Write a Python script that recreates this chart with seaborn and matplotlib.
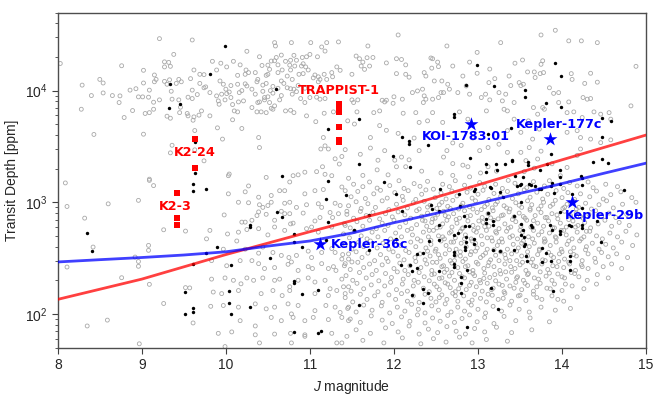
import matplotlib
matplotlib.use("Agg")
import matplotlib.pyplot as plt
import seaborn as sns
import pandas as pd
import numpy as np

# ---- data (J magnitude, transit depth in ppm) ----

# background candidates, upper band (deep transits)
grey_upper = [
    (9.21, 29200), (9.60, 28400), (9.38, 21100), (8.03, 17500), (8.76, 16700), (9.27, 18100),
    (9.32, 17900), (9.27, 16300), (9.34, 16500), (9.02, 15200), (9.62, 15300), (9.69, 14000),
    (9.74, 13900), (9.15, 13800), (9.17, 12600), (9.15, 12000), (8.50, 12600), (8.54, 11700),
    (8.29, 11200), (9.02, 11700), (9.27, 12100), (9.30, 11400), (9.33, 12500), (9.41, 11600),
    (9.44, 12600), (9.47, 12000), (9.58, 12800), (9.69, 11600), (9.74, 10600), (8.93, 10400),
    (8.86, 10100), (8.54, 9530), (8.40, 9030), (8.65, 9030), (8.74, 8970), (8.73, 7820),
    (8.96, 8790), (9.01, 8790), (9.08, 8730), (9.09, 10100), (9.35, 9870), (9.60, 10100),
    (9.66, 9220), (9.60, 8490), (9.21, 8260), (9.14, 7870), (9.36, 8380), (9.44, 8260),
    (9.55, 8730), (9.14, 6810), (9.09, 6350), (9.04, 6240), (8.89, 6630), (8.79, 5740),
    (8.28, 6810), (9.30, 5900), (9.34, 5660), (9.46, 7100), (9.45, 6350), (9.54, 6240),
    (9.55, 5940), (9.62, 5820), (9.68, 6030), (9.61, 5430), (9.63, 4390), (9.71, 6580),
    (8.43, 4050), (9.02, 4070), (9.36, 3240), (9.34, 2770), (9.63, 2950), (9.74, 2350),
    (9.09, 1610),
    (10.58, 26900), (10.59, 25100), (10.78, 26900), (11.01, 26900), (11.14, 24600), (11.20, 26900),
    (11.34, 27300), (10.25, 22500), (10.66, 20800), (10.60, 19800), (10.81, 20700), (10.77, 18700),
    (10.84, 18700), (10.91, 19800), (10.96, 20100), (11.00, 21100), (11.09, 20100), (11.18, 22600),
    (9.84, 18300), (9.94, 17600), (10.09, 18300), (10.01, 16300), (10.17, 17000), (10.24, 15300),
    (10.35, 14500), (10.40, 20100), (10.43, 16800), (10.50, 16900), (10.52, 15500), (10.54, 18400),
    (10.58, 18500), (10.62, 17000), (10.67, 15300), (10.71, 18300), (10.76, 16900), (10.77, 15300),
    (10.82, 16600), (10.90, 16600), (10.92, 17400), (10.95, 16300), (10.98, 15300), (11.06, 13800),
    (11.10, 13300), (11.12, 12600), (11.26, 14500), (11.32, 16300), (11.36, 15200), (11.50, 14000),
    (9.89, 15300), (10.14, 13700), (10.23, 14000), (10.27, 14500), (10.38, 12600), (10.48, 13700),
    (10.50, 14000), (10.62, 14500), (10.73, 13500), (10.79, 12600), (10.87, 14000), (10.92, 14200),
    (11.04, 13000), (11.10, 12000), (11.17, 14000), (11.20, 12600), (11.27, 13300), (9.76, 10800),
    (9.93, 12200), (9.97, 11400), (10.06, 11100), (10.14, 11400), (10.23, 11500), (10.25, 11000),
    (10.37, 12000), (10.44, 11200), (10.48, 11600), (10.56, 10900), (10.66, 12200), (10.69, 11600),
    (10.73, 10600), (10.77, 10400), (10.81, 10300), (10.86, 11100), (10.94, 10500), (9.81, 9600),
    (9.89, 8970), (9.95, 9290), (10.00, 10300), (10.01, 9400), (10.04, 9720), (10.16, 9600),
    (10.19, 10000), (10.31, 10300), (10.35, 9290), (10.44, 9860), (10.46, 8670), (10.53, 10000),
    (10.56, 9490), (10.50, 8800), (10.62, 10500), (10.66, 9030), (10.79, 9290), (10.84, 9790),
    (10.89, 8490), (10.94, 7820), (11.00, 8670), (11.08, 8730), (11.12, 8380), (11.18, 8490),
    (9.91, 8090), (9.92, 7550), (9.99, 8260), (10.06, 8670), (10.08, 7500), (10.15, 7920),
    (10.21, 8090), (10.31, 7050), (10.38, 7820), (10.40, 7920), (10.46, 8260), (10.52, 7820),
    (10.58, 7300), (10.64, 8260), (10.71, 6580), (10.77, 6670), (10.81, 6350), (10.54, 6950),
    (10.56, 6810), (10.10, 6580), (10.14, 6450), (10.37, 6450), (10.42, 6450), (10.48, 6350),
    (9.81, 5940), (10.08, 5480), (10.19, 4580), (9.90, 4640), (9.96, 3680), (10.96, 5940),
    (11.07, 5270), (11.17, 6270), (11.50, 8260), (11.45, 5360), (11.28, 6450), (11.16, 3800),
    (11.13, 3000), (11.18, 3200), (11.22, 3000), (11.30, 2450), (11.35, 2200), (11.15, 2080),
    (11.26, 1730), (10.39, 3800), (10.40, 3090), (10.03, 1730), (10.04, 1790), (10.48, 1670),
    (10.80, 1730), (10.86, 1760), (10.94, 1860), (11.08, 1880), (11.18, 1780), (11.38, 2570),
    (11.42, 2960), (11.46, 1640),
    (12.05, 31500), (11.69, 25100), (12.63, 25100), (12.99, 22000), (11.55, 20400), (11.59, 19300),
    (11.63, 18000), (11.68, 19700), (11.75, 19800), (11.71, 16600), (11.61, 16600), (11.65, 15500),
    (11.91, 17700), (12.03, 19300), (12.09, 19000), (12.14, 17000), (12.03, 14200), (12.14, 14000),
    (12.18, 13200), (12.44, 19600), (12.46, 19300), (12.52, 18000), (12.53, 16400), (12.45, 15900),
    (12.70, 16600), (12.82, 13500), (12.90, 18000), (12.99, 14300), (13.14, 15600), (13.20, 12800),
    (13.13, 11800), (13.09, 9290), (13.14, 8260), (12.36, 14500), (12.38, 13500), (12.48, 12200),
    (12.57, 12200), (12.64, 11400), (12.66, 10300), (12.56, 9600), (12.53, 8670), (12.59, 9600),
    (12.34, 10300), (12.36, 8970), (12.38, 8380), (12.46, 8380), (11.57, 8260), (11.52, 7820),
    (11.86, 8200), (11.89, 7920), (11.91, 8200), (11.99, 7700), (12.00, 8800), (12.10, 8380),
    (12.22, 9600), (12.28, 9930), (12.35, 7820), (12.76, 9600), (12.86, 11000), (12.90, 9290),
    (13.04, 8670), (13.10, 6580), (13.25, 9600), (11.56, 6450), (11.76, 6350), (11.83, 6580),
    (12.11, 6270), (12.26, 6350), (12.30, 5190), (12.40, 5360), (12.46, 6350), (12.58, 5190),
    (12.78, 6450), (12.88, 5550), (11.53, 5020), (11.83, 4860), (11.91, 4410), (12.05, 4140),
    (11.72, 3800), (12.24, 3760), (12.63, 2900), (12.70, 3400), (12.80, 3230), (12.94, 3760),
    (13.02, 2900), (13.12, 3090), (13.25, 3310), (11.60, 2690), (11.72, 3060), (11.81, 2380),
    (11.89, 2900), (12.01, 2380), (12.09, 2540), (12.18, 2400), (12.30, 2900), (12.33, 1900),
    (12.59, 2540), (12.70, 2220), (12.82, 2150), (12.88, 2080), (13.03, 1830), (13.12, 2080),
    (13.22, 1900), (12.56, 1830), (12.70, 1740), (11.80, 1950), (11.93, 1760), (12.03, 2080),
    (12.14, 2080), (11.63, 1740), (12.90, 1690),
    (13.92, 34700), (13.75, 31500), (14.08, 27900), (14.23, 27900), (14.42, 26900), (13.27, 26900),
    (13.44, 17600), (13.53, 18800), (13.77, 18500), (13.75, 17200), (13.59, 14700), (13.67, 14700),
    (13.74, 14200), (13.78, 14500), (13.68, 13100), (13.37, 13500), (14.11, 14200), (14.34, 14300),
    (14.88, 16500), (14.12, 12600), (13.49, 11800), (13.51, 11100), (13.54, 11400), (13.39, 11100),
    (13.85, 10600), (13.96, 9600), (13.90, 9450), (14.27, 11600), (14.42, 11900), (13.33, 9290),
    (13.29, 8090), (13.43, 7820), (14.25, 8670), (14.30, 8380), (14.34, 8490), (14.08, 7920),
    (13.96, 7820), (13.66, 7050), (13.77, 7050), (13.79, 6810), (13.31, 6810), (13.35, 6580),
    (14.06, 6350), (14.14, 6450), (14.38, 6450), (14.56, 6350), (14.46, 6150), (14.58, 5550),
    (14.24, 5740), (14.82, 7300), (13.71, 6150), (13.43, 5550), (13.60, 5360), (13.73, 4520),
    (13.35, 4380), (13.51, 4230), (14.18, 4380), (14.22, 3800), (14.34, 3680), (14.46, 3420),
    (14.58, 3620), (14.06, 4230), (13.65, 3680), (13.61, 3090), (13.75, 2870), (14.22, 3000),
    (13.35, 2800), (13.51, 2800), (13.71, 2440), (13.57, 2360), (13.88, 2210), (14.06, 2050),
    (14.18, 2630), (13.98, 1730), (13.67, 2020), (13.55, 1880),
]

# background candidates, bright / shallow corner
grey_left = [
    (8.09, 1490), (9.09, 1570), (9.14, 1410), (8.11, 917), (8.60, 968), (8.96, 1040),
    (8.32, 721), (8.42, 397), (9.08, 411), (9.08, 371), (8.92, 323), (8.96, 295),
    (8.96, 267), (8.11, 263), (8.76, 211), (9.09, 184), (9.26, 567), (9.52, 552),
    (9.52, 172), (9.57, 171), (9.26, 124), (8.59, 88), (8.35, 78), (8.97, 54), (9.61, 83),
    (10.27, 1400), (10.23, 1240), (10.39, 1110), (10.54, 1150), (10.64, 1270), (10.70, 1270),
    (10.76, 1520), (10.94, 1190), (11.06, 1270), (11.16, 1300), (11.38, 1370), (11.42, 1270),
    (10.03, 1190), (10.15, 1000), (10.27, 990), (10.40, 950), (10.44, 900), (10.50, 935),
    (10.54, 1000), (10.70, 980), (10.76, 1000), (10.84, 900), (10.96, 950), (11.10, 970),
    (11.14, 900), (11.24, 810), (11.30, 980), (11.36, 935), (11.44, 830), (9.98, 770),
    (10.19, 664), (10.23, 664), (10.31, 690), (10.37, 760), (10.39, 820), (10.48, 780),
    (10.58, 690), (10.66, 830), (10.70, 790), (10.76, 790), (10.80, 650), (10.92, 800),
    (11.02, 600), (11.06, 680), (11.12, 730), (11.27, 730), (11.34, 790), (11.42, 620),
    (9.81, 560), (10.02, 520), (10.15, 540), (10.25, 570), (10.39, 580), (10.50, 510),
    (10.58, 600), (10.70, 560), (10.77, 640), (10.96, 580), (11.10, 540), (11.26, 600),
    (9.77, 470), (9.97, 380), (10.13, 450), (10.23, 380), (10.39, 350), (10.44, 397),
    (10.56, 355), (10.66, 334), (10.75, 320), (10.84, 334), (10.98, 365), (11.02, 320),
    (11.14, 355), (11.26, 385), (11.30, 355), (11.38, 310), (11.46, 345), (9.83, 300),
    (10.01, 270), (10.17, 300), (10.31, 300), (10.39, 282), (10.46, 255), (10.58, 260),
    (10.74, 278), (10.78, 292), (10.86, 245), (10.98, 265), (11.03, 255), (11.14, 282),
    (11.22, 255), (11.28, 265), (11.31, 245), (11.42, 282), (11.50, 292), (9.83, 205),
    (9.99, 210), (10.09, 200), (10.18, 186), (10.25, 210), (10.33, 200), (10.44, 210),
    (10.58, 200), (10.64, 205), (10.76, 175), (10.86, 200), (10.98, 210), (11.06, 193),
    (11.18, 200), (11.24, 168), (11.38, 205), (11.46, 175), (9.85, 157), (9.95, 152),
    (10.15, 162), (10.42, 152), (10.56, 162), (10.67, 146), (10.76, 162), (11.06, 152),
    (11.22, 146), (11.32, 162), (11.42, 152), (9.82, 117), (9.97, 119), (10.15, 115),
    (10.35, 123), (10.48, 111), (10.58, 115), (10.74, 123), (10.86, 119), (11.06, 107),
    (11.19, 119), (11.30, 115), (11.36, 103), (11.46, 115), (10.17, 87), (10.35, 78),
    (10.54, 93), (10.66, 87), (10.78, 100), (10.80, 93), (10.94, 87), (11.04, 93),
    (11.22, 89), (11.38, 93), (11.46, 87), (9.91, 67), (10.07, 69), (10.35, 65),
    (10.58, 66), (10.77, 67), (10.94, 65), (11.26, 67), (9.99, 51), (10.40, 55),
    (10.78, 55), (10.94, 63), (11.32, 55), (11.38, 55), (11.44, 63),
]

# background candidates, main faint cloud
grey_cloud = [
    (11.52, 1450), (11.63, 1380), (11.71, 1520), (11.80, 1340), (11.95, 1410), (12.06, 1560),
    (12.12, 1330), (12.24, 1470), (12.31, 1390), (12.40, 1540), (12.47, 1310), (12.58, 1450),
    (12.66, 1380), (12.73, 1560), (12.84, 1420), (12.91, 1340), (13.02, 1500), (13.08, 1390),
    (13.21, 1450), (13.29, 1330), (13.36, 1570), (13.44, 1480), (13.58, 1350), (13.66, 1530),
    (13.79, 1400), (13.85, 1560), (14.02, 1330), (14.09, 1500), (14.18, 1400), (14.31, 1520),
    (14.37, 1350), (14.52, 1450), (14.66, 1380),
    (11.49, 1120), (11.57, 1250), (11.66, 1080), (11.76, 1190), (11.84, 1280), (11.92, 1090),
    (12.01, 1220), (12.10, 1130), (12.17, 1270), (12.26, 1060), (12.33, 1180), (12.38, 1290),
    (12.49, 1100), (12.56, 1210), (12.62, 1070), (12.69, 1260), (12.75, 1140), (12.87, 1230),
    (12.93, 1090), (13.00, 1180), (13.06, 1280), (13.13, 1060), (13.19, 1200), (13.27, 1130),
    (13.35, 1250), (13.41, 1080), (13.48, 1190), (13.55, 1290), (13.62, 1110), (13.70, 1230),
    (13.77, 1070), (13.83, 1180), (13.93, 1270), (14.00, 1100), (14.07, 1220), (14.15, 1060),
    (14.22, 1190), (14.33, 1120), (14.41, 1260), (14.49, 1070), (14.58, 1170), (14.70, 1240),
    (14.83, 1100),
    (11.46, 930), (11.55, 1010), (11.61, 880), (11.69, 970), (11.78, 900), (11.86, 1030),
    (11.94, 860), (12.03, 960), (12.11, 1040), (12.16, 890), (12.23, 990), (12.30, 870),
    (12.36, 1020), (12.43, 940), (12.51, 880), (12.57, 1000), (12.64, 920), (12.70, 1040),
    (12.77, 870), (12.82, 980), (12.90, 910), (12.97, 1030), (13.04, 860), (13.11, 960),
    (13.17, 890), (13.23, 1010), (13.31, 930), (13.38, 870), (13.45, 990), (13.52, 900),
    (13.59, 1030), (13.64, 950), (13.72, 870), (13.78, 1000), (13.86, 920), (13.92, 1040),
    (14.01, 880), (14.06, 960), (14.14, 1020), (14.20, 900), (14.28, 980), (14.35, 870),
    (14.44, 950), (14.53, 1030), (14.61, 890), (14.72, 960), (14.88, 1000),
    (11.44, 780), (11.52, 720), (11.60, 830), (11.67, 760), (11.75, 810), (11.83, 710),
    (11.90, 790), (11.98, 740), (12.05, 820), (12.13, 770), (12.20, 720), (12.27, 840),
    (12.33, 750), (12.40, 800), (12.46, 710), (12.52, 780), (12.59, 830), (12.65, 740),
    (12.71, 790), (12.78, 720), (12.84, 840), (12.91, 760), (12.99, 810), (13.05, 730),
    (13.12, 790), (13.18, 840), (13.24, 710), (13.30, 770), (13.37, 820), (13.43, 740),
    (13.49, 800), (13.56, 720), (13.62, 850), (13.68, 760), (13.75, 810), (13.82, 730),
    (13.88, 790), (13.95, 710), (14.03, 830), (14.10, 760), (14.17, 800), (14.25, 720),
    (14.32, 780), (14.40, 840), (14.47, 740), (14.56, 800), (14.64, 730), (14.77, 780),
    (14.92, 760),
    (11.41, 640), (11.48, 590), (11.56, 670), (11.63, 610), (11.71, 690), (11.79, 580),
    (11.86, 650), (11.93, 620), (12.00, 690), (12.07, 600), (12.14, 660), (12.21, 580),
    (12.27, 630), (12.34, 690), (12.39, 610), (12.45, 660), (12.51, 590), (12.58, 640),
    (12.63, 690), (12.69, 600), (12.75, 650), (12.81, 580), (12.88, 680), (12.94, 620),
    (13.00, 590), (13.06, 660), (13.13, 610), (13.19, 690), (13.25, 580), (13.32, 640),
    (13.39, 600), (13.45, 670), (13.51, 610), (13.58, 690), (13.65, 590), (13.71, 650),
    (13.78, 610), (13.84, 680), (13.91, 590), (13.98, 650), (14.05, 600), (14.13, 680),
    (14.19, 620), (14.27, 660), (14.34, 590), (14.43, 640), (14.51, 690), (14.59, 610),
    (14.68, 660), (14.80, 620),
    (11.40, 520), (11.47, 480), (11.53, 550), (11.61, 500), (11.68, 470), (11.74, 540),
    (11.81, 490), (11.89, 560), (11.96, 470), (12.02, 530), (12.09, 490), (12.16, 560),
    (12.22, 510), (12.28, 470), (12.35, 540), (12.41, 490), (12.47, 560), (12.53, 500),
    (12.60, 470), (12.66, 530), (12.73, 480), (12.79, 550), (12.85, 510), (12.92, 470),
    (12.98, 540), (13.04, 500), (13.10, 560), (13.16, 480), (13.22, 530), (13.28, 470),
    (13.34, 550), (13.41, 500), (13.47, 470), (13.53, 540), (13.60, 490), (13.66, 560),
    (13.72, 510), (13.79, 470), (13.85, 530), (13.92, 490), (13.99, 560), (14.05, 510),
    (14.12, 470), (14.18, 540), (14.26, 490), (14.33, 550), (14.41, 500), (14.48, 470),
    (14.57, 530), (14.66, 490), (14.76, 550), (14.89, 510),
    (11.42, 420), (11.50, 380), (11.58, 440), (11.64, 400), (11.72, 450), (11.80, 390),
    (11.87, 430), (11.94, 380), (12.01, 450), (12.08, 410), (12.14, 370), (12.20, 440),
    (12.26, 400), (12.32, 450), (12.38, 390), (12.44, 420), (12.50, 380), (12.56, 450),
    (12.62, 410), (12.68, 440), (12.74, 380), (12.80, 430), (12.86, 400), (12.93, 450),
    (12.99, 390), (13.05, 420), (13.11, 380), (13.17, 450), (13.23, 410), (13.29, 440),
    (13.35, 380), (13.42, 420), (13.48, 390), (13.54, 450), (13.61, 400), (13.67, 430),
    (13.73, 380), (13.80, 450), (13.86, 410), (13.93, 440), (13.99, 380), (14.06, 420),
    (14.14, 390), (14.21, 450), (14.29, 400), (14.36, 430), (14.44, 380), (14.52, 420),
    (14.61, 390), (14.71, 440), (14.84, 410),
    (11.39, 340), (11.46, 310), (11.55, 360), (11.62, 320), (11.69, 350), (11.77, 300),
    (11.84, 340), (11.91, 315), (11.99, 360), (12.05, 330), (12.12, 305), (12.18, 355),
    (12.25, 320), (12.31, 345), (12.37, 305), (12.43, 330), (12.49, 365), (12.55, 315),
    (12.61, 345), (12.67, 300), (12.73, 335), (12.79, 360), (12.85, 310), (12.91, 340),
    (12.97, 365), (13.03, 320), (13.09, 350), (13.15, 305), (13.21, 335), (13.27, 360),
    (13.33, 315), (13.40, 345), (13.46, 300), (13.52, 330), (13.59, 360), (13.65, 310),
    (13.71, 340), (13.77, 305), (13.84, 355), (13.90, 320), (13.97, 345), (14.03, 310),
    (14.10, 360), (14.17, 330), (14.24, 300), (14.31, 345), (14.39, 315), (14.47, 355),
    (14.55, 325), (14.65, 345), (14.78, 320),
    (11.41, 270), (11.48, 250), (11.57, 290), (11.64, 260), (11.71, 280), (11.79, 245),
    (11.86, 275), (11.93, 295), (12.00, 255), (12.07, 285), (12.13, 245), (12.19, 270),
    (12.26, 295), (12.32, 260), (12.39, 280), (12.45, 245), (12.51, 290), (12.57, 265),
    (12.63, 250), (12.69, 285), (12.76, 260), (12.82, 295), (12.88, 270), (12.94, 245),
    (13.00, 280), (13.07, 255), (13.13, 290), (13.19, 265), (13.26, 245), (13.32, 280),
    (13.38, 300), (13.44, 255), (13.50, 275), (13.57, 245), (13.63, 290), (13.69, 265),
    (13.76, 280), (13.83, 250), (13.89, 270), (13.96, 295), (14.02, 260), (14.09, 280),
    (14.16, 245), (14.23, 275), (14.31, 255), (14.40, 290), (14.49, 265), (14.59, 280),
    (14.71, 255),
    (11.43, 220), (11.51, 200), (11.59, 235), (11.67, 210), (11.74, 225), (11.82, 198),
    (11.90, 230), (11.97, 212), (12.04, 238), (12.11, 205), (12.17, 225), (12.24, 200),
    (12.30, 235), (12.36, 215), (12.42, 198), (12.48, 228), (12.54, 208), (12.60, 236),
    (12.66, 218), (12.72, 200), (12.78, 230), (12.84, 210), (12.90, 238), (12.96, 220),
    (13.02, 200), (13.08, 232), (13.14, 212), (13.21, 198), (13.27, 228), (13.34, 205),
    (13.40, 236), (13.47, 215), (13.54, 200), (13.60, 230), (13.67, 210), (13.74, 238),
    (13.81, 218), (13.88, 200), (13.95, 228), (14.03, 210), (14.11, 235), (14.20, 215),
    (14.30, 200), (14.42, 225), (14.55, 210),
    (11.40, 175), (11.49, 160), (11.56, 188), (11.64, 168), (11.73, 182), (11.81, 158),
    (11.89, 178), (11.96, 192), (12.03, 165), (12.10, 185), (12.16, 160), (12.23, 178),
    (12.29, 192), (12.35, 170), (12.42, 158), (12.48, 185), (12.54, 165), (12.61, 190),
    (12.67, 172), (12.73, 158), (12.79, 183), (12.86, 165), (12.92, 192), (12.98, 175),
    (13.05, 160), (13.11, 188), (13.18, 170), (13.25, 185), (13.31, 158), (13.38, 178),
    (13.45, 192), (13.52, 165), (13.59, 180), (13.66, 160), (13.74, 188), (13.82, 170),
    (13.91, 185), (14.00, 162), (14.12, 178), (14.26, 168), (14.41, 185),
    (11.42, 140), (11.51, 128), (11.60, 150), (11.68, 135), (11.77, 145), (11.86, 127),
    (11.94, 148), (12.02, 135), (12.09, 152), (12.16, 130), (12.23, 145), (12.30, 127),
    (12.37, 150), (12.44, 138), (12.50, 128), (12.57, 148), (12.63, 135), (12.70, 153),
    (12.76, 130), (12.83, 145), (12.89, 127), (12.96, 150), (13.03, 138), (13.10, 128),
    (13.17, 147), (13.24, 135), (13.32, 153), (13.40, 130), (13.48, 145), (13.57, 132),
    (13.66, 150), (13.76, 135), (13.88, 145), (14.02, 130), (14.18, 142),
    (11.45, 112), (11.55, 104), (11.64, 120), (11.74, 108), (11.85, 118), (11.95, 102),
    (12.04, 115), (12.13, 106), (12.21, 122), (12.29, 110), (12.37, 102), (12.45, 118),
    (12.53, 108), (12.61, 123), (12.68, 104), (12.76, 115), (12.84, 106), (12.92, 120),
    (13.00, 110), (13.09, 102), (13.18, 117), (13.28, 106), (13.38, 120), (13.49, 110),
    (13.61, 104), (13.75, 115), (13.92, 108), (14.10, 112),
    (11.48, 90), (11.60, 84), (11.73, 96), (11.86, 88), (11.98, 82), (12.09, 94),
    (12.19, 86), (12.28, 98), (12.37, 83), (12.46, 92), (12.55, 86), (12.64, 97),
    (12.72, 84), (12.81, 91), (12.90, 98), (12.99, 85), (13.08, 93), (13.19, 82),
    (13.31, 95), (13.45, 87), (13.62, 92), (13.85, 85),
    (11.55, 72), (11.72, 67), (11.90, 75), (12.05, 69), (12.18, 78), (12.30, 66),
    (12.41, 73), (12.52, 68), (12.63, 77), (12.74, 70), (12.85, 66), (12.96, 74),
    (13.08, 69), (13.22, 76), (13.40, 68), (13.64, 72),
    (11.63, 58), (11.88, 55), (12.10, 61), (12.32, 54), (12.47, 60), (12.62, 56),
    (12.78, 62), (12.93, 55), (13.10, 59), (13.35, 57),
]

# extra candidates in the crowded core of the cloud
grey_core = [
    (12.40, 905), (12.54, 950), (12.67, 880), (12.80, 930), (12.94, 870), (13.08, 915),
    (13.21, 960), (13.34, 890), (13.49, 940), (13.62, 875), (13.75, 925), (13.89, 960),
    (14.03, 905), (14.17, 870),
    (12.37, 680), (12.49, 720), (12.61, 760), (12.74, 700), (12.87, 745), (13.01, 680),
    (13.15, 725), (13.28, 760), (13.41, 700), (13.54, 745), (13.66, 685), (13.80, 730),
    (13.94, 770), (14.08, 700), (14.22, 745),
    (12.42, 560), (12.55, 600), (12.68, 545), (12.82, 590), (12.95, 560), (13.08, 605),
    (13.21, 545), (13.36, 585), (13.50, 560), (13.63, 600), (13.76, 545), (13.89, 590),
    (14.02, 560), (14.16, 600), (14.29, 550),
    (12.44, 455), (12.58, 490), (12.71, 440), (12.84, 470), (12.97, 430), (13.11, 480),
    (13.25, 445), (13.38, 485), (13.52, 430), (13.65, 470), (13.79, 440), (13.93, 480),
    (14.08, 450), (14.23, 470),
    (12.40, 365), (12.53, 340), (12.66, 375), (12.79, 330), (12.92, 360), (13.06, 335),
    (13.19, 375), (13.32, 340), (13.46, 365), (13.59, 330), (13.73, 370), (13.87, 335),
    (14.00, 360), (14.14, 340), (14.28, 375),
    (12.46, 290), (12.59, 270), (12.72, 300), (12.85, 265), (12.98, 290), (13.12, 270),
    (13.25, 300), (13.39, 265), (13.53, 290), (13.66, 270), (13.80, 300), (13.94, 265),
    (14.08, 290), (14.24, 265),
    (12.45, 225), (12.57, 210), (12.69, 235), (12.81, 215), (12.94, 230), (13.07, 208),
    (13.20, 225), (13.33, 238), (13.46, 210), (13.59, 225), (13.72, 205), (13.85, 232),
    (14.00, 215), (14.15, 230),
    (12.51, 175), (12.64, 185), (12.77, 168), (12.90, 180), (13.03, 190), (13.16, 165),
    (13.29, 180), (13.43, 170), (13.56, 188), (13.70, 175), (13.86, 168), (14.04, 185),
    (12.54, 140), (12.73, 145), (12.93, 133), (13.12, 150), (13.30, 138), (13.50, 147),
    (13.70, 140), (13.95, 135),
]

# highlighted (validated) planets
black_dots = [
    (9.99, 25100), (9.81, 14000), (10.60, 10300), (9.34, 11400), (9.46, 7550), (9.32, 6950),
    (9.63, 3480), (9.63, 1810), (9.61, 1450), (9.61, 1250), (9.76, 1310), (10.67, 1710),
    (11.21, 4570), (11.22, 1540), (11.19, 1060), (12.99, 16800), (12.86, 11200), (13.19, 10900),
    (12.71, 6140), (12.71, 5820), (11.59, 5620), (12.09, 3850), (12.18, 3550), (12.18, 3310),
    (12.41, 3290), (11.99, 2570), (11.59, 2190), (12.19, 2050), (12.91, 2510), (13.10, 2220),
    (13.21, 2220), (13.12, 4120), (13.56, 10100), (13.56, 8710), (13.92, 17500), (13.99, 13600),
    (13.81, 7760), (13.99, 7100), (14.48, 5700), (14.58, 5310), (13.39, 4630), (14.48, 3820),
    (13.32, 2210), (13.40, 2400), (13.40, 2320), (13.59, 2300), (13.59, 2170), (13.87, 2680),
    (13.82, 2210), (13.74, 1950), (13.23, 1950), (13.10, 1860), (13.44, 1710), (13.53, 1680),
    (13.51, 1460), (13.61, 1470), (13.68, 1400), (13.98, 1950), (13.98, 1690), (13.98, 1460),
    (14.23, 1710), (14.24, 1640), (14.37, 2290), (14.47, 2420), (14.55, 2250), (14.74, 1290),
    (13.87, 1400), (13.90, 1200), (13.73, 1320), (13.26, 1240), (13.30, 1110), (12.96, 1320),
    (12.95, 1260), (12.78, 1190), (11.88, 1510), (12.03, 1190), (11.43, 1170), (12.55, 1320),
    (12.44, 942), (12.45, 863), (12.54, 828), (11.70, 773), (12.09, 840), (11.53, 560),
    (11.70, 371), (12.03, 472), (12.08, 272), (12.19, 272), (12.22, 240), (12.28, 347),
    (12.35, 353), (12.28, 260), (12.42, 447), (12.54, 621), (12.54, 463), (12.54, 240),
    (12.35, 166), (12.41, 155), (12.22, 148), (12.35, 125), (11.59, 121), (12.72, 505),
    (12.76, 530), (12.83, 746), (12.85, 612), (12.89, 608), (12.86, 485), (12.86, 438),
    (12.85, 395), (12.85, 377), (12.95, 464), (12.95, 420), (12.72, 355), (12.72, 338),
    (12.72, 280), (12.72, 262), (12.87, 249), (12.80, 213), (12.80, 191), (12.80, 155),
    (12.87, 77), (13.12, 806), (13.09, 705), (13.09, 655), (13.18, 680), (13.18, 630),
    (13.18, 371), (13.26, 365), (13.16, 172), (13.24, 110), (13.43, 750), (13.51, 640),
    (13.53, 560), (13.51, 505), (13.55, 485), (13.56, 427), (13.55, 405), (13.43, 375),
    (13.57, 330), (13.58, 300), (13.63, 630), (13.64, 600), (13.76, 387), (13.81, 353),
    (13.76, 290), (13.87, 295), (13.86, 625), (13.88, 570), (13.97, 550), (13.97, 525),
    (13.97, 817), (14.08, 620), (14.11, 608), (14.24, 620), (14.24, 590), (14.09, 330),
    (14.09, 295), (14.09, 249), (13.89, 160), (14.46, 438), (14.24, 889), (14.42, 680),
    (12.79, 930), (13.14, 1380), (13.16, 1340), (14.24, 1430), (14.12, 1180), (13.51, 1000),
    (13.50, 1430), (13.46, 1390), (13.63, 1440), (13.75, 1320), (13.88, 1490),
    (8.35, 526), (8.41, 365), (9.51, 157), (9.51, 99), (9.61, 114), (9.61, 105),
    (9.61, 280), (9.76, 354), (9.89, 401), (10.04, 160), (10.04, 124), (10.06, 99),
    (10.06, 277), (10.29, 620), (10.29, 600), (10.29, 116), (10.53, 317), (10.61, 825),
    (10.67, 744), (10.81, 523), (10.81, 440), (10.81, 196), (10.81, 190), (10.91, 395),
    (10.91, 150), (10.81, 69), (11.10, 164), (11.10, 68), (11.13, 71), (11.21, 670),
    (11.19, 455),
]

# M-dwarf systems (red squares)
k2_24_j = [9.63, 9.63]
k2_24_depth = [3670, 2020]
k2_3_j = [9.42, 9.42, 9.42]
k2_3_depth = [1205, 721, 630]
trappist_j = [11.35] * 7
trappist_depth = [7600, 7200, 6800, 6400, 4750, 3600, 3450]

# named Kepler planets (blue stars)
star_names = ["KOI-1783.01", "Kepler-177c", "Kepler-36c", "Kepler-29b"]
star_j = [12.92, 13.86, 11.12, 14.12]
star_depth = [5070, 3650, 419, 1000]

# detection-limit curves
curve_j = [8, 8.5, 9, 9.5, 10, 10.5, 11, 11.5, 12, 12.5, 13, 13.5, 14, 14.5, 15]
blue_depth = [292, 306, 320, 337, 360, 405, 450, 530, 656, 795, 975, 1200, 1470, 1820, 2240]
red_j = [8, 9, 10, 11, 12, 13, 14, 15]
red_depth = [135, 205, 340, 545, 860, 1430, 2400, 4000]

grey_df = pd.DataFrame(grey_upper + grey_left + grey_cloud + grey_core, columns=["J", "depth"])
black_df = pd.DataFrame(black_dots, columns=["J", "depth"])

# ---- figure ----
sns.set_style("ticks")
plt.rcParams["font.family"] = ["Liberation Sans", "DejaVu Sans"]
plt.rcParams["mathtext.fontset"] = "custom"
plt.rcParams["mathtext.rm"] = "Liberation Sans"
plt.rcParams["mathtext.it"] = "Liberation Sans:italic"

fig = plt.figure(figsize=(6.64, 3.99), dpi=100)
ax = fig.add_axes([0.087, 0.129, 0.886, 0.8395])

sns.scatterplot(data=grey_df, x="J", y="depth", ax=ax, marker="o", s=8,
                facecolors="none", edgecolor="#a8a8a8", linewidth=0.6, zorder=1)
sns.scatterplot(data=black_df, x="J", y="depth", ax=ax, color="black", s=6,
                linewidth=0, zorder=2)

sns.lineplot(x=red_j, y=red_depth, ax=ax, color="red", alpha=0.75, lw=2.0,
             sort=False, estimator=None, zorder=3)
sns.lineplot(x=curve_j, y=blue_depth, ax=ax, color="blue", alpha=0.75, lw=2.0,
             sort=False, estimator=None, zorder=3)

sq = dict(ax=ax, marker="s", color="red", s=22, linewidth=0, zorder=4)
sns.scatterplot(x=k2_24_j, y=k2_24_depth, **sq)
sns.scatterplot(x=k2_3_j, y=k2_3_depth, **sq)
sns.scatterplot(x=trappist_j, y=trappist_depth, **sq)

sns.scatterplot(x=star_j, y=star_depth, ax=ax, marker="*", color="blue", s=110,
                linewidth=0, zorder=5)

lab = dict(fontsize=9.2, fontweight="bold", family="DejaVu Sans", zorder=6)
ax.text(11.35, 10100, "TRAPPIST-1", color="red", ha="center", va="center", **lab)
ax.text(9.63, 2770, "K2-24", color="red", ha="center", va="center", **lab)
ax.text(9.40, 920, "K2-3", color="red", ha="center", va="center", **lab)
ax.text(12.85, 3900, "KOI-1783.01", color="blue", ha="center", va="center", **lab)
ax.text(13.97, 5000, "Kepler-177c", color="blue", ha="center", va="center", **lab)
ax.text(11.25, 419, "Kepler-36c", color="blue", ha="left", va="center", **lab)
ax.text(14.50, 762, "Kepler-29b", color="blue", ha="center", va="center", **lab)

ax.set_yscale("log")
ax.set_xlim(8, 15)
ax.set_ylim(50, 50000)
ax.set_xlabel("$J$ magnitude", fontsize=10)
ax.set_ylabel("Transit Depth [ppm]", fontsize=10)
ax.tick_params(axis="both", which="major", labelsize=10, length=4, width=0.8,
               color="0.25")
ax.tick_params(axis="y", which="minor", length=2.5, width=0.6, color="0.25")
for sp in ax.spines.values():
    sp.set_color("0.3")
    sp.set_linewidth(1.0)
if ax.get_legend() is not None:
    ax.get_legend().remove()

fig.savefig("out.png", dpi=100)
